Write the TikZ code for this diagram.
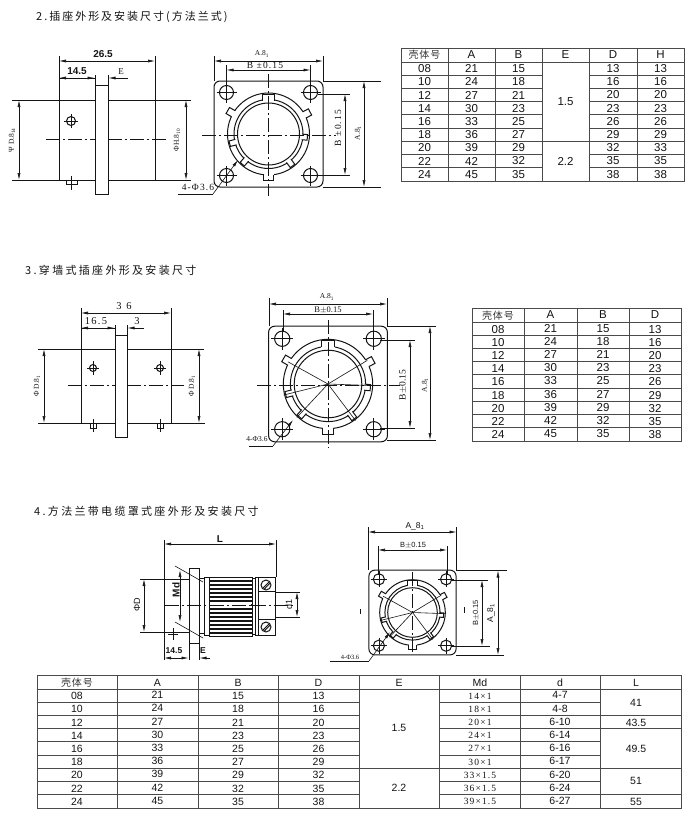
\documentclass[tikz,border=0pt]{standalone}
\usepackage{fontspec}
\setmainfont{Liberation Serif}
\setsansfont{Liberation Sans}
\newfontfamily\cjk[LetterSpace=21]{Noto Sans CJK SC}
\newfontfamily\cjkb[LetterSpace=18]{Noto Sans CJK SC}
\newfontfamily\cjkh[LetterSpace=8]{Noto Sans CJK SC}
\newfontfamily\ser[LetterSpace=12]{Liberation Serif}
\usetikzlibrary{arrows.meta}
\definecolor{ink}{HTML}{141414}
\definecolor{rule}{HTML}{4A4A4A}
\tikzset{
  part/.style={draw=ink,line width=1pt},
  thinl/.style={draw=ink,line width=0.6pt},
  centerl/.style={draw=ink,line width=0.5pt,dash pattern=on 14pt off 3pt on 2pt off 3pt},
  dimline/.style={draw=ink,line width=0.6pt,{Latex[length=7pt,width=3pt]}-{Latex[length=7pt,width=3pt]}},
  dimhead/.style={draw=ink,line width=0.6pt,-{Latex[length=7pt,width=3pt]}},
  tabl/.style={draw=rule,line width=0.9pt},
  ttl/.style={anchor=west,inner sep=0pt,text=ink,font=\fontsize{11}{11}\cjk},
  num/.style={inner sep=0pt,text=ink,font=\fontsize{11.5}{11.5}\sffamily},
  numc/.style={inner sep=0pt,text=ink,font=\fontsize{10.5}{10.5}\sffamily},
  serc/.style={inner sep=0pt,text=ink,font=\fontsize{9.5}{9.5}\ser},
  hdr/.style={inner sep=0pt,text=ink!85,font=\fontsize{10}{10}\cjkh},
  lab/.style={inner sep=0pt,text=ink,font=\fontsize{9.5}{9.5}\ser},
  labs/.style={inner sep=0pt,text=ink,font=\fontsize{7.5}{7.5}\selectfont},
  labb/.style={inner sep=0pt,text=ink,font=\fontsize{10}{10}\sffamily\bfseries},
}
% flange seen from the front, in the units of the first view
\newcommand{\flangeview}[1]{%
  \draw[part,rounded corners=6pt] (-54.5,-53) rectangle (54.5,53);
  \foreach \hx in {-42,42}\foreach \hy in {-41.5,41.5}{
    \draw[part] (\hx,\hy) circle (7);
    \draw[thinl] (\hx-10,\hy)--(\hx+10,\hy) (\hx,\hy-10)--(\hx,\hy+10);
  }
  \draw[part] (0,0) circle (41);
  \foreach \a/\rb/\w in {150/47/3.5,28/47/3.5,-90/46/5}{
    \begin{scope}[rotate=\a]
      \fill[white] (38,-\w) rectangle (\rb,\w);
      \draw[part] (40.5,-\w)--(\rb,-\w)--(\rb,\w)--(40.5,\w);
    \end{scope}
  }
  \draw[part] (0,0) circle (34.5);
  \foreach \a/\rb/\w in {90/40/6,-5/39/2.8,194/40/2.8,229/40/2.8,-53/40/2.8}{
    \begin{scope}[rotate=\a]
      \fill[white] (33,-\w) rectangle (\rb,\w);
      \draw[part] (33.5,-\w)--(\rb,-\w)--(\rb,\w)--(33.5,\w);
    \end{scope}
  }
  \draw[part] (0,0) circle (31);
  #1
}
\newcommand{\radials}{%
  \foreach \a in {151,31,-2,194,227,-53}{
    \begin{scope}[rotate=\a]\draw[thinl] (0,0)--(42,0);\end{scope}
  }
}
\begin{document}
\begin{tikzpicture}[x=1pt,y=-1pt]
\useasboundingbox (0,0) rectangle (700,820);
\fill[white] (0,0) rectangle (700,820);

% ---------- titles
\node[ttl,font=\fontsize{11}{11}\cjkb] (title2) at (36,17) {2.插座外形及安装尺寸(方法兰式)};
\node[ttl] (title3) at (25,270) {3.穿墙式插座外形及安装尺寸};
\node[ttl] (title4) at (34,511) {4.方法兰带电缆罩式座外形及安装尺寸};

% ---------- section 2, side view
\draw[part] (59,100) rectangle (155,180);
\fill[white] (95,85) rectangle (108,194);
\draw[part] (95,85) rectangle (108,194);
\draw[part] (95,75)--(95,85) (108,75)--(108,85);
\draw[centerl] (46,139)--(95,139) (108,139)--(166,139);
\draw[part] (71,121) circle (4.5);
\draw[thinl] (64,121)--(78,121) (71,114)--(71,128);
\draw[part] (66,180) rectangle (77,184.5);
\draw[thinl] (71,176)--(71,190);
\draw[thinl] (59,56)--(59,100) (155,56)--(155,100);
\draw[dimline] (59,61)--(155,61);
\node[labb] (d265) at (103,54) {26.5};
\draw[dimhead] (94.5,78)--(59,78);
\draw[dimhead] (59,78)--(94.5,78);
\draw[dimhead] (128,78)--(108.5,78);
\node[labb] (d145) at (77,71) {14.5};
\node[labb,font=\fontsize{9}{9}\ser] (dE) at (121,72) {E};
\draw[thinl] (12,100)--(59,100) (12,180)--(59,180);
\draw[dimline] (19,100)--(19,180);
\node[labs,rotate=90] (lD) at (12,140) {Ψ D.8\textsubscript{14}};
\draw[thinl] (155,100)--(191,100) (155,180)--(191,180);
\draw[dimline] (186,100)--(186,180);
\node[labs,rotate=90] (lH) at (177,140) {ΦH.8\textsubscript{10}};

% ---------- section 2, front view
\begin{scope}[shift={(268.5,134)}]
  \flangeview{}
\end{scope}
\draw[centerl] (202,135)--(336,135);
\draw[centerl] (268.5,74)--(268.5,196);
\draw[thinl] (214,56)--(214,81) (323,56)--(323,81);
\draw[dimline] (214,61)--(323,61);
\node[labs] (a1) at (262,54) {A.8\textsubscript{1}};
\draw[thinl] (226.5,65)--(226.5,87) (310.5,65)--(310.5,87);
\draw[dimline] (226.5,70)--(310.5,70);
\node[lab] (b1) at (265,65) {B ±0.15};
\draw[thinl] (323,81)--(381,81) (323,187)--(381,187);
\draw[dimline] (364,81)--(364,187);
\node[labs,rotate=90] (a2) at (358,133) {A.8\textsubscript{1}};
\draw[thinl] (318,94)--(350,94) (318,175)--(350,175);
\draw[dimline] (345,94)--(345,175);
\node[lab,rotate=90] (b2) at (338,128) {B ±0.15};
\node[lab] (hole1) at (198,187.5) {4-Φ3.6};
\coordinate (hole1end) at (238,160);
\draw[thinl] (178,194)--(213,194);
\draw[dimhead] (213,194)--(hole1end);

% ---------- section 3, side view
\draw[part] (81,349) rectangle (171,423);
\fill[white] (115,335) rectangle (127,437);
\draw[part] (115,335) rectangle (127,437);
\draw[part] (115,325)--(115,335) (127,325)--(127,335);
\draw[centerl] (68,385)--(115,385) (127,385)--(184,385);
\foreach \sx in {93,160}{
  \draw[part] (\sx,368) circle (3.5);
  \draw[thinl] (\sx-6,368)--(\sx+6,368) (\sx,361)--(\sx,375);
  \draw[part] (\sx-3,423) rectangle (\sx+3,428);
  \draw[thinl] (\sx,419)--(\sx,432);
}
\draw[thinl] (81,308)--(81,349) (171,308)--(171,349);
\draw[dimline] (81,313)--(171,313);
\node[lab,font=\fontsize{10.5}{10.5}\ser] (d36) at (124,306) {3\hspace{5pt}6};
\draw[dimhead] (81,328)--(114.5,328);
\draw[dimhead] (114.5,328)--(81,328);
\draw[dimhead] (144,328)--(127.5,328);
\node[lab,font=\fontsize{10.5}{10.5}\ser] (d165) at (96,321) {16.5};
\node[lab,font=\fontsize{10.5}{10.5}\ser] (d3) at (137,321) {3};
\draw[thinl] (38,349)--(81,349) (38,423)--(81,423);
\draw[dimline] (44,349)--(44,423);
\node[labs,rotate=90] (lD2) at (37,386) {Φ D.8\textsubscript{1}};
\draw[thinl] (171,349)--(204,349) (171,423)--(205,423);
\draw[dimline] (199,349)--(199,423);
\node[labs,rotate=90] (lD3) at (192,386) {Φ D.8\textsubscript{1}};

% ---------- section 3, front view
\begin{scope}[shift={(328,384)},scale=1.09]
  \flangeview{\radials}
\end{scope}
\draw[centerl] (257,385)--(400,385);
\draw[centerl] (328,320)--(328,448);
\draw[thinl] (269,298)--(269,326) (387,298)--(387,326);
\draw[dimline] (269,304)--(387,304);
\node[labs] (a3) at (327,297) {A.8\textsubscript{1}};
\draw[thinl] (283,310)--(283,332) (373,310)--(373,332);
\draw[dimline] (283,314)--(373,314);
\node[labs,font=\fontsize{8.5}{8.5}\selectfont] (b3) at (328,310) {B$\pm$0.15};
\draw[thinl] (387,326)--(436,326) (387,440)--(436,440);
\draw[dimline] (430,326)--(430,440);
\node[labs,rotate=90] (a4) at (425,385) {A.8\textsubscript{1}};
\draw[thinl] (380,340)--(415,340) (380,428)--(415,428);
\draw[dimline] (410,340)--(410,428);
\node[labs,rotate=90,font=\fontsize{9.5}{9.5}\selectfont] (b4) at (403,385) {B$\pm$0.15};
\node[labs] (hole2) at (257,439) {4-Φ3.6};
\coordinate (hole2end) at (293,420);
\draw[thinl] (249,446)--(273,446);
\draw[dimhead] (273,446)--(hole2end);

% ---------- section 4, side view
\draw[part] (164,579)--(189,579) (164,632)--(189,632) (164,579)--(164,632);
\draw[part] (189,568) rectangle (199,643);
\draw[part] (199,578) rectangle (204,633);
\draw[part] (204,577) rectangle (209,635);
\draw[part] (209,577) rectangle (252,636);
\foreach \ky in {581,585,...,633}{\draw[draw=ink,line width=1.1pt] (209,\ky)--(252,\ky);}
\draw[part] (252,578) rectangle (255,634);
\draw[part] (255,577) rectangle (275,635);
\draw[part] (258,577)--(258,635);
\draw[part] (258,591)--(275,591) (258,619)--(275,619);
\foreach \sy in {585,627}{
  \draw[part] (266,\sy) circle (5);
  \draw[part] (263,\sy+3)--(269,\sy-3) (264.5,\sy+3.8)--(270,\sy-1.8);
}
\draw[thinl] (275,592)--(300,592) (275,617)--(300,617);
\draw[centerl] (165,605)--(209,605) (252,605)--(296,605);
\fill[white] (210,603.5) rectangle (251,606.5);
\draw[centerl] (210,605)--(251,605);
\draw[dimline] (297,592)--(297,617);
\node[labb,rotate=90,font=\fontsize{9}{9}\sffamily] (dd1) at (289,604) {d1};
\draw[thinl] (164,540)--(164,660) (276,540)--(276,577);
\draw[dimline] (164,544)--(276,544);
\node[labb] (dL) at (220,539) {L};
\draw[thinl] (140,579)--(164,579) (140,632)--(164,632);
\draw[dimline] (144,579)--(144,632);
\node[labb,rotate=90,font=\fontsize{9}{9}\sffamily] (dPhi) at (137,605) {ΦD};
\draw[thinl] (175,566)--(203,582) (175,622)--(203,638);
\draw[dimline] (180,570)--(180,622);
\node[labb,rotate=90] (dMd) at (176,590) {Md};
\draw[part] (173,628)--(173,640) (168,634)--(178,634);
\draw[thinl] (189,643)--(189,660) (199,643)--(199,660);
\draw[dimline] (164,658)--(188.5,658);
\draw[dimhead] (210,658)--(199.5,658);
\node[labb,font=\fontsize{8.5}{8.5}\sffamily\bfseries] (d145b) at (174,651) {14.5};
\node[labb,font=\fontsize{8.5}{8.5}\sffamily\bfseries] (dEb) at (203,651) {E};

% ---------- section 4, front view
\begin{scope}[shift={(412.5,612.5)},scale=0.80]
  \flangeview{\radials}
\end{scope}
\draw[thinl] (360,609)--(360,614) (464,607)--(464,613);
\draw[centerl] (412.5,572)--(412.5,652);
\draw[thinl] (368,527)--(368,570) (456.5,527)--(456.5,570);
\draw[dimline] (368,532)--(456.5,532);
\node[labs,font=\fontsize{8.5}{8.5}\sffamily] (a5) at (415,526) {A\_8\textsubscript{1}};
\draw[thinl] (378,546)--(378,575) (447,546)--(447,575);
\draw[dimline] (378,550)--(447,550);
\node[labs,font=\fontsize{7.5}{7.5}\sffamily] (b5) at (413,545) {B$\pm$0.15};
\draw[thinl] (456,570.5)--(507,570.5) (456,655)--(504,655);
\draw[dimline] (498,570.5)--(498,655);
\node[labs,rotate=90,font=\fontsize{8.5}{8.5}\sffamily] (a6) at (491,613) {A\_8\textsubscript{1}};
\draw[thinl] (451,580)--(488,580) (451,646)--(490,646);
\draw[dimline] (482,580)--(482,646);
\node[labs,rotate=90,font=\fontsize{7.5}{7.5}\sffamily] (b6) at (476,613) {B$\pm$0.15};
\node[labs,font=\fontsize{6.5}{6.5}\selectfont] (hole3) at (350,657) {4-Φ3.6};
\coordinate (hole3end) at (390,632);
\draw[thinl] (330,661)--(369,661);
\draw[dimhead] (369,661)--(hole3end);

% ---------- table of section 2
\draw[tabl] (401,48) rectangle (684,181);
\foreach \vx in {448,495,542,589,637}{\draw[tabl] (\vx,48)--(\vx,181);}
\draw[tabl] (401,62)--(684,62);
\foreach \n in {1,...,8}{
  \draw[tabl] (401,62+\n*13.2)--(542,62+\n*13.2) (589,62+\n*13.2)--(684,62+\n*13.2);
}
\draw[tabl] (542,141.2)--(589,141.2);
\node[hdr] (ta0) at (424.5,55) {壳体号};
\foreach \tx/\tt [count=\c] in {471.5/A,518.5/B,565.5/E,613/D,660.5/H}{\node[num] (tah\c) at (\tx,55) {\tt};}
\foreach \ra/\rb/\rc/\rd/\re/\rf [count=\c] in {
  08/21/15/13/13/0,10/24/18/16/16/0,12/27/21/20/20/0,14/30/23/23/23/0,16/33/25/26/26/0,
  18/36/27/29/29/0,20/39/29/32/33/0,22/42/32/35/35/0,24/45/35/38/38/0}{
  \node[num] (taa\c) at (424.5,62+\c*13.2-6.6) {\ra};
  \node[num] (tab\c) at (471.5,62+\c*13.2-6.6) {\rb};
  \node[num] (tac\c) at (518.5,62+\c*13.2-6.6) {\rc};
  \node[num] (tad\c) at (613,62+\c*13.2-6.6) {\rd};
  \node[num] (tae\c) at (660.5,62+\c*13.2-6.6) {\re};
}
\node[num] (tae1) at (565.5,102) {1.5};
\node[num] (tae2) at (565.5,161) {2.2};

% ---------- table of section 3
\draw[tabl] (472,308) rectangle (681,441);
\foreach \vx in {524,577,629}{\draw[tabl] (\vx,308)--(\vx,441);}
\draw[tabl] (472,322)--(681,322);
\foreach \n in {1,...,8}{\draw[tabl] (472,322+\n*13.2)--(681,322+\n*13.2);}
\node[hdr] (tb0) at (498,316) {壳体号};
\foreach \tx/\tt [count=\c] in {550.5/A,603/B,655/D}{\node[num] (tbh\c) at (\tx,315) {\tt};}
\foreach \ra/\rb/\rc/\rd [count=\c] in {
  08/21/15/13,10/24/18/16,12/27/21/20,14/30/23/23,16/33/25/26,
  18/36/27/29,20/39/29/32,22/42/32/35,24/45/35/38}{
  \node[num] (tba\c) at (498,322+\c*13.2-6) {\ra};
  \node[num] (tbb\c) at (550.5,322+\c*13.2-7) {\rb};
  \node[num] (tbc\c) at (603,322+\c*13.2-7) {\rc};
  \node[num] (tbd\c) at (655,322+\c*13.2-6) {\rd};
}

% ---------- table of section 4
\draw[tabl] (37,675) rectangle (681,808);
\foreach \vx in {117.5,198,278.5,359,439.5,520,600.5}{\draw[tabl] (\vx,675)--(\vx,808);}
\draw[tabl] (37,689)--(681,689);
\foreach \n in {1,...,8}{
  \draw[tabl] (37,689+\n*13.2)--(359,689+\n*13.2) (439.5,689+\n*13.2)--(600.5,689+\n*13.2);
}
\draw[tabl] (359,768.2)--(439.5,768.2);
\foreach \n in {2,3,6,8}{\draw[tabl] (600.5,689+\n*13.2)--(681,689+\n*13.2);}
\node[hdr] (tc0) at (77,682.5) {壳体号};
\foreach \tx/\tt [count=\c] in {157.5/A,238/B,318.5/D,399/E,480/Md,560/d,636/L}{\node[numc] (tch\c) at (\tx,682.5) {\tt};}
\foreach \ra/\rb/\rc/\rd/\re/\rf [count=\c] in {
  08/21/15/13/14×1/4-7,10/24/18/16/18×1/4-8,12/27/21/20/20×1/6-10,14/30/23/23/24×1/6-14,
  16/33/25/26/27×1/6-16,18/36/27/29/30×1/6-17,20/39/29/32/33×1.5/6-20,22/42/32/35/36×1.5/6-24,
  24/45/35/38/39×1.5/6-27}{
  \node[numc] (tca\c) at (77,689+\c*13.2-6.2) {\ra};
  \node[numc] (tcb\c) at (157.5,689+\c*13.2-7.2) {\rb};
  \node[numc] (tcc\c) at (238,689+\c*13.2-6.2) {\rc};
  \node[numc] (tcd\c) at (318.5,689+\c*13.2-6.2) {\rd};
  \node[serc] (tce\c) at (480,689+\c*13.2-6.2) {\re};
  \node[numc] (tcf\c) at (560,689+\c*13.2-7) {\rf};
}
\node[numc] (tcE1) at (399,728) {1.5};
\node[numc] (tcE2) at (399,788) {2.2};
\node[numc] (tcL1) at (636,702.5) {41};
\node[numc] (tcL2) at (636,722.5) {43.5};
\node[numc] (tcL3) at (636,748.5) {49.5};
\node[numc] (tcL4) at (636,781) {51};
\node[numc] (tcL5) at (636,802) {55};
\end{tikzpicture}
\end{document}
